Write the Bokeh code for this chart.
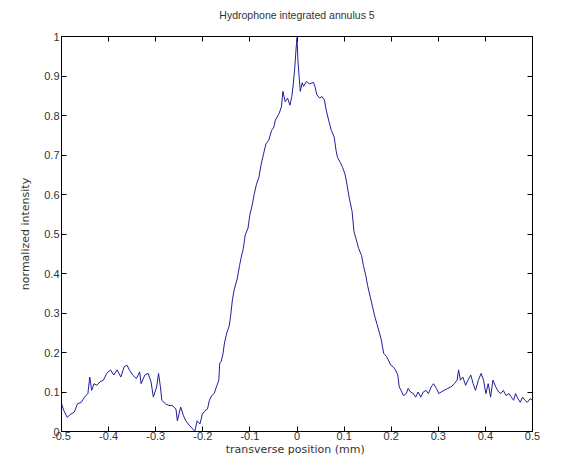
from bokeh.plotting import figure
from bokeh.models import Range1d, FixedTicker, LinearAxis, CustomLabelingPolicy
from bokeh.embed import file_html
from bokeh.resources import INLINE

# transverse position (mm) and normalized intensity
x_mm = [-0.500, -0.495, -0.488, -0.480, -0.473, -0.466, -0.458, -0.451, -0.444, -0.440,
        -0.436, -0.431, -0.425, -0.418, -0.411, -0.404, -0.396, -0.389, -0.382, -0.374,
        -0.367, -0.361, -0.356, -0.349, -0.341, -0.334, -0.331, -0.323, -0.316, -0.310,
        -0.305, -0.298, -0.294, -0.290, -0.287, -0.279, -0.272, -0.265, -0.257, -0.254,
        -0.247, -0.241, -0.236, -0.228, -0.221, -0.217, -0.212, -0.206, -0.201, -0.195,
        -0.190, -0.186, -0.181, -0.176, -0.171, -0.166, -0.164, -0.161, -0.157, -0.154,
        -0.149, -0.144, -0.141, -0.137, -0.133, -0.127, -0.122, -0.119, -0.114, -0.110,
        -0.104, -0.100, -0.095, -0.091, -0.086, -0.081, -0.076, -0.071, -0.066, -0.060,
        -0.054, -0.049, -0.046, -0.038, -0.033, -0.030, -0.025, -0.020, -0.015, -0.011,
        -0.008, -0.005, -0.002, 0.000, 0.002, 0.004, 0.007, 0.011, 0.014, 0.020,
        0.027, 0.035, 0.038, 0.042, 0.048, 0.053, 0.058, 0.062, 0.068, 0.073,
        0.079, 0.083, 0.086, 0.092, 0.097, 0.102, 0.106, 0.111, 0.117, 0.121,
        0.126, 0.131, 0.137, 0.141, 0.146, 0.150, 0.155, 0.160, 0.165, 0.170,
        0.175, 0.179, 0.184, 0.190, 0.194, 0.199, 0.204, 0.209, 0.214, 0.217,
        0.221, 0.226, 0.232, 0.236, 0.241, 0.247, 0.252, 0.257, 0.263, 0.268,
        0.274, 0.279, 0.285, 0.290, 0.296, 0.301, 0.306, 0.312, 0.320, 0.327,
        0.334, 0.340, 0.343, 0.347, 0.352, 0.358, 0.363, 0.369, 0.374, 0.379,
        0.385, 0.391, 0.396, 0.401, 0.406, 0.411, 0.416, 0.422, 0.428, 0.433,
        0.438, 0.444, 0.450, 0.455, 0.460, 0.464, 0.469, 0.474, 0.479, 0.484,
        0.489, 0.495, 0.500]

intensity = [0.070, 0.053, 0.036, 0.044, 0.049, 0.070, 0.074, 0.087, 0.096, 0.138,
             0.104, 0.121, 0.117, 0.126, 0.130, 0.147, 0.156, 0.143, 0.156, 0.138,
             0.164, 0.168, 0.156, 0.143, 0.134, 0.151, 0.121, 0.143, 0.147, 0.126,
             0.087, 0.113, 0.147, 0.113, 0.079, 0.070, 0.066, 0.066, 0.057, 0.027,
             0.062, 0.040, 0.027, 0.015, 0.006, 0.000, 0.027, 0.019, 0.044, 0.053,
             0.057, 0.079, 0.091, 0.096, 0.113, 0.130, 0.173, 0.177, 0.198, 0.224,
             0.250, 0.267, 0.292, 0.335, 0.361, 0.386, 0.420, 0.438, 0.463, 0.497,
             0.515, 0.549, 0.574, 0.600, 0.626, 0.643, 0.677, 0.703, 0.728, 0.737,
             0.762, 0.771, 0.788, 0.805, 0.822, 0.861, 0.835, 0.844, 0.826, 0.848,
             0.878, 0.917, 0.968, 0.997, 0.940, 0.906, 0.861, 0.883, 0.874, 0.886,
             0.880, 0.884, 0.874, 0.853, 0.844, 0.848, 0.840, 0.814, 0.784, 0.762,
             0.745, 0.711, 0.694, 0.681, 0.668, 0.651, 0.626, 0.591, 0.557, 0.506,
             0.485, 0.463, 0.446, 0.420, 0.395, 0.369, 0.343, 0.318, 0.292, 0.271,
             0.250, 0.232, 0.198, 0.190, 0.181, 0.168, 0.164, 0.156, 0.143, 0.113,
             0.104, 0.091, 0.096, 0.109, 0.100, 0.096, 0.087, 0.100, 0.087, 0.100,
             0.104, 0.096, 0.113, 0.121, 0.109, 0.096, 0.100, 0.104, 0.109, 0.113,
             0.121, 0.130, 0.156, 0.130, 0.138, 0.117, 0.130, 0.143, 0.121, 0.104,
             0.130, 0.147, 0.130, 0.096, 0.121, 0.087, 0.130, 0.113, 0.100, 0.096,
             0.104, 0.091, 0.096, 0.087, 0.079, 0.096, 0.083, 0.074, 0.087, 0.079,
             0.074, 0.083, 0.079]

x_ticks = [-0.5, -0.4, -0.3, -0.2, -0.1, 0.0, 0.1, 0.2, 0.3, 0.4, 0.5]
x_tick_labels = ["-0.5", "-0.4", "-0.3", "-0.2", "-0.1", "0", "0.1", "0.2", "0.3", "0.4", "0.5"]
y_ticks = [0.0, 0.1, 0.2, 0.3, 0.4, 0.5, 0.6, 0.7, 0.8, 0.9, 1.0]
y_tick_labels = ["0", "0.1", "0.2", "0.3", "0.4", "0.5", "0.6", "0.7", "0.8", "0.9", "1"]

FONT = "Liberation Sans"
LABEL_FONT = "DejaVu Sans"
TXT = "#333333"

p = figure(width=553, height=458, x_range=Range1d(-0.5, 0.5), y_range=Range1d(0, 1),
           output_backend="svg", toolbar_location=None,
           min_border_left=61, min_border_right=21, min_border_top=36, min_border_bottom=20)

p.title.text = "Hydrophone integrated annulus 5"
p.title.align = "center"
p.title.text_font = FONT
p.title.text_font_size = "10.5px"
p.title.text_font_style = "normal"
p.title.text_color = TXT
p.title.standoff = 9

p.grid.visible = False
p.outline_line_color = "black"
p.outline_line_width = 1
p.background_fill_color = "white"
p.border_fill_color = "white"

xa = p.xaxis[0]
ya = p.yaxis[0]
xa.ticker = FixedTicker(ticks=x_ticks)
ya.ticker = FixedTicker(ticks=y_ticks)
xa.major_label_overrides = {t: l for t, l in zip(x_ticks, x_tick_labels)}
ya.major_label_overrides = {t: l for t, l in zip(y_ticks, y_tick_labels)}
xa.axis_label = "transverse position  (mm)"
ya.axis_label = "normalized intensity"

for ax in (xa, ya):
    ax.major_tick_in = 5
    ax.major_tick_out = 0
    ax.minor_tick_in = 0
    ax.minor_tick_out = 0
    ax.axis_line_color = "black"
    ax.major_tick_line_color = "black"
    ax.major_label_text_font = FONT
    ax.major_label_text_font_size = "11px"
    ax.major_label_text_color = TXT
    ax.axis_label_text_font = LABEL_FONT
    ax.axis_label_text_font_size = "11px"
    ax.axis_label_text_font_style = "normal"
    ax.axis_label_text_color = TXT
    ax.major_label_standoff = 2
xa.major_label_standoff = 0
xa.axis_label_standoff = 0
ya.axis_label_standoff = 9

hide_labels = CustomLabelingPolicy(code="""
const n = indices.size
for (let i = 0; i < n; i++) { indices.unset(i) }
return indices
""")

for loc, ticks in (("right", y_ticks), ("above", x_ticks)):
    ax = LinearAxis(ticker=FixedTicker(ticks=ticks), major_label_policy=hide_labels,
                    major_tick_in=5, major_tick_out=0, minor_tick_in=0, minor_tick_out=0,
                    axis_line_color="black", major_label_standoff=0)
    p.add_layout(ax, loc)

p.line(x_mm, intensity, line_color="#1f1f9a", line_width=1)

open("out.html", "w").write(file_html(p, INLINE))
